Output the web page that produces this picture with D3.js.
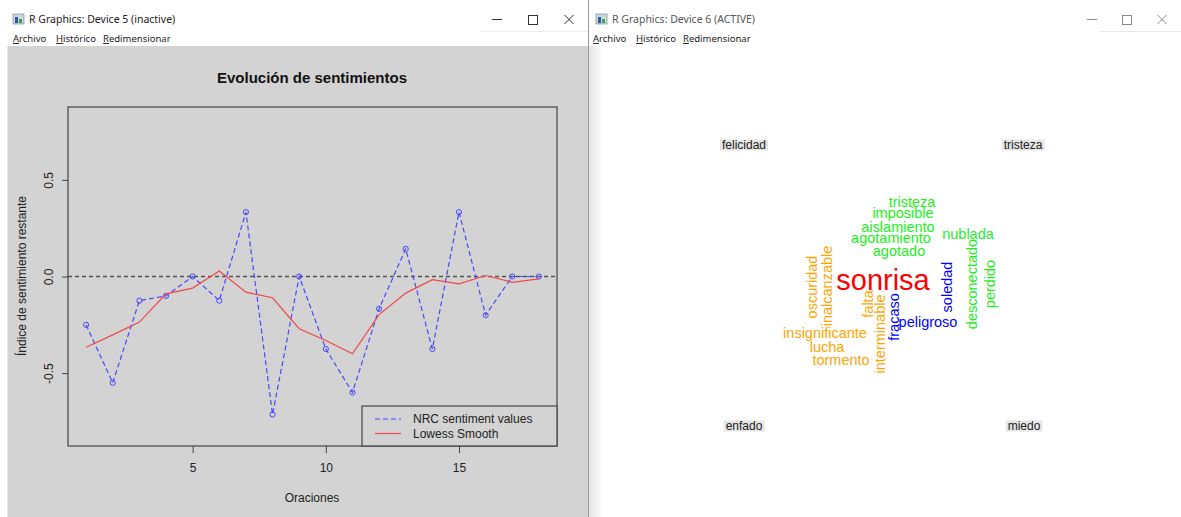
<!DOCTYPE html>
<html><head><meta charset="utf-8">
<script src="https://cdn.jsdelivr.net/npm/d3@7/dist/d3.min.js"></script>
<style>body{margin:0;overflow:hidden;background:#fff} svg{display:block}</style>
</head><body>
<svg id="c" width="1181" height="517"></svg>
<script>
// ---------- data ----------
const oraciones = [1,2,3,4,5,6,7,8,9,10,11,12,13,14,15,16,17,18];
const nrcValues = [-0.25,-0.55,-0.125,-0.1,0,-0.125,0.333,-0.714,0,-0.375,-0.6,-0.167,0.143,-0.375,0.333,-0.2,0,0];
const lowessValues = [-0.366,-0.302,-0.236,-0.09,-0.06,0.028,-0.081,-0.11,-0.27,-0.331,-0.4,-0.197,-0.086,-0.016,-0.038,0.005,-0.03,-0.012];
const xTicks = [5,10,15];
const yTicks = [-0.5,0,0.5];
const legendLabels = ["NRC sentiment values","Lowess Smooth"];

const emotions = ["felicidad","tristeza","enfado","miedo"];
const cloudWords = ["sonrisa","tristeza","imposible","aislamiento","agotamiento","nublada","agotado",
  "oscuridad","inalcanzable","falta","interminable","fracaso","soledad","desconectado","perdido",
  "peligroso","insignificante","lucha","tormento"];
const cloudGroups = ["felicidad","tristeza","tristeza","tristeza","tristeza","tristeza","tristeza",
  "enfado","enfado","enfado","enfado","miedo","miedo","tristeza","tristeza",
  "miedo","enfado","enfado","enfado"];
const cloudFreq = [2,1,1,1,1,1,1,1,1,1,1,1,1,1,1,1,1,1,1];

// ---------- layout (not data) ----------
const cloudLayout = [ // [cx, cy, rotated]
  [883,280,0],[912,202,0],[903,213,0],[898,227,0],[891,238,0],[968,234,0],[899,251,0],
  [812,287,1],[827,286,1],[868,304,1],[880,334,1],[894,317,1],[947,287,1],[972,284,1],[990,284,1],
  [928,322,0],[825,333,0],[827,347,0],[841,360,0]
];
const labelLayout = [[744,145],[1023,145],[744,426],[1024,426]];

const svg = d3.select("#c");
const FONT = "'Liberation Sans', Arial, sans-serif";
const UI = "'Noto Sans', 'Open Sans', sans-serif";

// ---------- window chrome ----------
svg.append("rect").attr("x",0).attr("y",0).attr("width",1181).attr("height",517).attr("fill","#fff");
// left window plot background
svg.append("rect").attr("x",8).attr("y",46).attr("width",580).attr("height",471).attr("fill","#d3d3d3");
svg.append("line").attr("x1",7.5).attr("x2",7.5).attr("y1",46).attr("y2",517).attr("stroke","#e6e6e6");
svg.append("line").attr("x1",588.5).attr("x2",588.5).attr("y1",0).attr("y2",517).attr("stroke","#9a9a9a");
// right window shadow gradient
const defs = svg.append("defs");
const g1 = defs.append("linearGradient").attr("id","sh").attr("x1","0").attr("x2","1");
g1.append("stop").attr("offset","0").attr("stop-color","#e4e4e4");
g1.append("stop").attr("offset","1").attr("stop-color","#ffffff");
svg.append("rect").attr("x",589).attr("y",46).attr("width",14).attr("height",471).attr("fill","url(#sh)");
svg.append("line").attr("x1",1100).attr("x2",1181).attr("y1",31.5).attr("y2",31.5).attr("stroke","#e8e8e8");
svg.append("line").attr("x1",480).attr("x2",588).attr("y1",31.5).attr("y2",31.5).attr("stroke","#eeeeee");

function chrome(x0, title, titleColor, btnX, menuX, iconX) {
  const ic = svg.append("g").attr("transform",`translate(${iconX},14)`);
  ic.append("rect").attr("width",11).attr("height",10).attr("fill","#cfd8e0").attr("stroke","#6a7a8a").attr("stroke-width",0.6);
  ic.append("rect").attr("x",2).attr("y",3).attr("width",3).attr("height",6).attr("fill","#2a5aa8");
  ic.append("rect").attr("x",6).attr("y",5).attr("width",3).attr("height",4).attr("fill","#3aa84a");
  svg.append("text").attr("x",iconX+16).attr("y",23).text(title)
    .attr("font-family",UI).attr("font-size",10.5).attr("fill",titleColor);
  // buttons
  const c = titleColor === "#222" ? "#333" : "#8a8a8a";
  svg.append("line").attr("x1",btnX[0]-5).attr("x2",btnX[0]+5).attr("y1",19.5).attr("y2",19.5).attr("stroke",c);
  svg.append("rect").attr("x",btnX[1]-4.5).attr("y",15.5).attr("width",9).attr("height",9).attr("fill","none").attr("stroke",c);
  svg.append("path").attr("d",`M${btnX[2]-4.5},15 L${btnX[2]+4.5},24 M${btnX[2]+4.5},15 L${btnX[2]-4.5},24`).attr("stroke",c);
  const menu = ["Archivo","Histórico","Redimensionar"];
  menu.forEach((m,i) => {
    const t = svg.append("text").attr("x",menuX[i]).attr("y",42).attr("font-family",UI).attr("font-size",9.5).attr("fill","#222");
    t.append("tspan").attr("text-decoration","underline").text(m[0]);
    t.append("tspan").text(m.slice(1));
  });
}
chrome(0,"R Graphics: Device 5 (inactive)","#222",[497,533,569],[13,56,103],13);
chrome(590,"R Graphics: Device 6 (ACTIVE)","#555",[1092,1127,1162],[593,636,683],596);

// ---------- left chart ----------
const x = d3.scaleLinear().domain([0.32,18.68]).range([68,557]);
const y = d3.scaleLinear().domain([-0.877,0.877]).range([446,107]);

svg.append("text").attr("x",312).attr("y",83).attr("text-anchor","middle")
  .attr("font-family",FONT).attr("font-weight","bold").attr("font-size",15).attr("fill","#111")
  .text("Evolución de sentimientos");

// zero reference line
svg.append("line").attr("x1",x.range()[0]).attr("x2",x.range()[1]).attr("y1",y(0)).attr("y2",y(0))
  .attr("stroke","#555").attr("stroke-width",1.4).attr("stroke-dasharray","4,3");

// NRC series
const line = d3.line().x((d,i)=>x(oraciones[i])).y(d=>y(d));
svg.append("path").datum(nrcValues).attr("d",line).attr("fill","none")
  .attr("stroke","#4848ff").attr("stroke-width",1.2).attr("stroke-dasharray","5,3");
svg.selectAll("circle.pt").data(nrcValues).join("circle").attr("class","pt")
  .attr("cx",(d,i)=>x(oraciones[i])).attr("cy",d=>y(d)).attr("r",2.6)
  .attr("fill","none").attr("stroke","#4848ff").attr("stroke-width",1);
// lowess
svg.append("path").datum(lowessValues).attr("d",line).attr("fill","none")
  .attr("stroke","#f04848").attr("stroke-width",1.2);

// box
svg.append("rect").attr("x",68).attr("y",107).attr("width",489).attr("height",339)
  .attr("fill","none").attr("stroke","#444").attr("stroke-width",1.2);

// axes
const xa = svg.append("g").attr("transform","translate(0,446)")
  .call(d3.axisBottom(x).tickValues(xTicks).tickSize(7).tickFormat(d3.format("d")));
xa.select(".domain").remove();
xa.selectAll("line").attr("stroke","#444");
xa.selectAll("text").attr("y",17).attr("font-family",FONT).attr("font-size",12).attr("fill","#222");

const ya = svg.append("g").attr("transform","translate(68,0)")
  .call(d3.axisLeft(y).tickValues(yTicks).tickSize(6).tickFormat(d3.format(".1f")));
ya.select(".domain").remove();
ya.selectAll("line").attr("stroke","#444");
ya.selectAll("text").attr("x",null).attr("dy",null).attr("text-anchor","middle")
  .attr("transform","translate(-15,0) rotate(-90)")
  .attr("font-family",FONT).attr("font-size",12).attr("fill","#222")
  .text(d => d3.format(".1f")(d).replace("−","-"));

svg.append("text").attr("x",312).attr("y",502).attr("text-anchor","middle")
  .attr("font-family",FONT).attr("font-size",12).attr("fill","#222").text("Oraciones");
svg.append("text").attr("transform","translate(25.5,276) rotate(-90)").attr("text-anchor","middle")
  .attr("font-family",FONT).attr("font-size",12).attr("fill","#222").text("Índice de sentimiento restante");

// legend
svg.append("rect").attr("x",362).attr("y",406).attr("width",195).attr("height",40)
  .attr("fill","#d3d3d3").attr("stroke","#444").attr("stroke-width",1.2);
const lgStyles = [{c:"#4848ff",dash:"5,3"},{c:"#f04848",dash:null}];
legendLabels.forEach((lab,i)=>{
  const yy = 419 + i*14.5;
  svg.append("line").attr("x1",375).attr("x2",401).attr("y1",yy).attr("y2",yy)
    .attr("stroke",lgStyles[i].c).attr("stroke-width",1.2).attr("stroke-dasharray",lgStyles[i].dash);
  svg.append("text").attr("x",413).attr("y",yy+4.3).attr("font-family",FONT).attr("font-size",12)
    .attr("fill","#222").text(lab);
});

// ---------- word cloud ----------
const groupColor = d3.scaleOrdinal().domain(emotions).range(["#ff0000","#22ee22","#ffa500","#0000ff"]);
const sizeScale = d3.scaleLinear().domain([1,2]).range([14.5,29]);
cloudWords.forEach((w,i)=>{
  const [cx,cy,rot] = cloudLayout[i];
  svg.append("text").attr("transform",`translate(${cx},${cy})${rot? " rotate(-90)":""}`)
    .attr("text-anchor","middle").attr("dy","0.35em")
    .attr("font-family",FONT).attr("font-size",sizeScale(cloudFreq[i]))
    .attr("fill",groupColor(cloudGroups[i])).text(w);
});
emotions.forEach((e,i)=>{
  const [lx,ly] = labelLayout[i];
  const g = svg.append("g");
  const bg = g.append("rect").attr("fill","#e6e6e6");
  const t = g.append("text").attr("x",lx).attr("y",ly).attr("dy","0.35em").attr("text-anchor","middle")
    .attr("font-family",FONT).attr("font-size",12).attr("fill","#222").text(e);
  const bb = t.node().getBBox();
  bg.attr("x",bb.x-2).attr("y",ly-5.5).attr("width",bb.width+4).attr("height",11);
});
</script>
</body></html>
